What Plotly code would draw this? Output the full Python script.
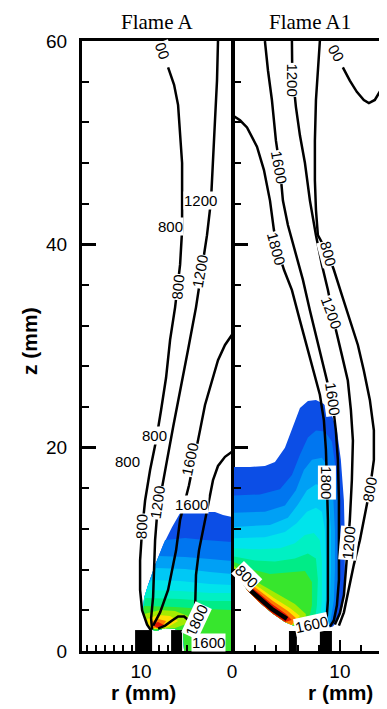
import plotly.graph_objects as go

# ----------------------------- DATA (r, z in mm) -----------------------------
PANEL_TITLES = ["Flame A", "Flame A1"]
Y_TICKS = [0, 20, 40, 60]

# filled-contour colour levels (low -> high)
LEVEL_COLORS = ["rgb(12,78,230)", "rgb(0,118,240)", "rgb(0,160,245)", "rgb(0,200,245)",
                "rgb(0,228,235)", "rgb(0,240,195)", "rgb(0,236,135)", "rgb(55,230,45)",
                "rgb(165,235,0)", "rgb(255,225,0)", "rgb(255,120,0)", "rgb(225,20,0)"]

# ---- Flame A (left, r axis reversed) ----
A_800_r = [7.03, 6.37, 5.93, 5.71, 5.49, 5.49, 5.49, 5.71, 6.04, 6.26, 6.81, 7.25, 7.80, 8.35, 9.01, 9.56, 9.89, 10.11, 10.11, 9.89, 9.34, 8.90]
A_800_z = [57.4, 55.7, 53.7, 51.2, 48.0, 44.6, 41.4, 38.0, 35.5, 33.8, 30.6, 26.9, 23.7, 20.7, 17.8, 14.8, 11.9, 8.9, 6.0, 4.0, 2.6, 2.0]
A_1200_r = [1.54, 1.65, 1.87, 2.09, 2.31, 2.75, 3.30, 3.96, 4.84, 5.71, 6.48, 7.14, 7.80, 8.24, 8.46, 8.57, 8.68, 8.90, 8.79]
A_1200_z = [60.0, 56.1, 52.2, 48.0, 44.3, 40.9, 37.5, 33.8, 29.6, 25.7, 22.0, 18.8, 15.3, 13.4, 10.9, 8.0, 5.3, 3.2, 2.1]
A_1600a_r = [0.0, 0.77, 1.54, 2.20, 2.97, 3.52, 4.18, 4.73, 5.27, 5.71, 6.15, 7.03, 7.91, 8.68]
A_1600a_z = [31.1, 30.1, 28.6, 26.6, 24.2, 21.7, 18.8, 16.3, 14.4, 12.9, 9.9, 6.0, 3.8, 2.5]
A_1600b_r = [0.0, 0.77, 1.54, 2.09, 2.53, 3.08, 3.63, 3.96, 4.07, 4.07]
A_1600b_z = [19.6, 19.1, 18.2, 16.8, 14.8, 12.4, 9.9, 7.5, 5.0, 3.8]
A_1800_r = [4.07, 4.62, 5.27, 5.93, 6.59, 7.36, 8.13]
A_1800_z = [3.0, 2.9, 3.4, 3.4, 3.0, 2.5, 2.2]

A_top_r = [5.71, 4.62, 2.97, 1.87, 0.99, 0.0]
A_top_z = [13.57, 13.77, 13.67, 13.67, 13.37, 13.18]
A_low_r = [0.0, 5.27, 5.38, 6.26, 7.36, 8.35, 9.01, 9.45, 9.78, 9.67, 9.23, 8.46, 7.58, 6.59, 5.71]
A_low_z = [0.0, 0.0, 1.77, 2.16, 2.26, 1.97, 2.16, 3.05, 4.03, 5.21, 6.49, 8.46, 10.42, 12.19, 13.57]
A_band_tops = [
    (A_top_r, A_top_z),
    ([7.36, 5.16, 2.97, 1.32, 0.0], [10.91, 11.11, 10.91, 10.82, 10.72]),
    ([8.02, 5.16, 2.42, 0.0], [9.34, 9.24, 9.05, 8.85]),
    ([8.35, 5.16, 2.42, 0.0], [8.16, 8.06, 7.77, 7.57]),
    ([8.79, 5.71, 2.42, 0.0], [6.98, 6.88, 6.59, 6.49]),
    ([9.34, 5.71, 2.42, 0.0], [6.00, 5.90, 5.70, 5.70]),
    ([9.56, 5.71, 2.42, 0.0], [5.21, 5.11, 4.92, 4.92]),
    ([9.67, 6.26, 2.97, 0.0], [4.42, 4.33, 4.13, 4.03]),
]
A_hot_polys = [
    ([9.67, 7.91, 6.26, 4.84, 5.05, 6.26, 7.91, 9.01, 9.45], [3.64, 4.03, 3.93, 3.44, 2.65, 2.26, 2.16, 2.16, 2.95]),
    ([9.34, 8.13, 6.81, 5.93, 7.03, 8.46, 9.12], [3.15, 3.54, 3.44, 2.95, 2.36, 2.16, 2.46]),
    ([9.01, 8.13, 7.25, 7.69, 8.79], [2.85, 3.15, 2.95, 2.36, 2.26]),
    ([8.79, 8.13, 7.47, 8.24], [2.65, 2.85, 2.56, 2.26]),
]
A_burner_r0 = [8.79, 5.49]
A_burner_r1 = [10.66, 6.70]
A_burner_h = [2.06, 2.06]

A_labels = [("00", 7.6, 59.0, 70), ("1200", 3.5, 44.3, 0), ("800", 6.8, 41.8, 0),
            ("800", 6.0, 35.8, -85), ("1200", 3.5, 37.3, -80), ("800", 8.5, 21.2, 0),
            ("800", 11.5, 18.6, 0), ("1600", 4.6, 18.8, -78), ("1200", 8.2, 14.6, -82),
            ("1600", 4.5, 14.4, 0), ("800", 9.9, 12.2, -88), ("1800", 3.9, 3.0, -65),
            ("1600", 2.6, 0.8, 0)]

# ---- Flame A1 (right) ----
B_1800_r = [0.0, 0.57, 1.23, 2.17, 2.83, 3.40, 3.77, 4.15, 4.72, 5.47, 6.23, 6.98, 7.64, 8.11, 8.49, 8.68, 8.77, 8.87, 8.87, 8.87, 8.77, 8.58]
B_1800_z = [52.6, 52.2, 51.5, 49.6, 47.3, 44.3, 41.4, 39.4, 37.5, 35.5, 32.5, 29.6, 27.1, 25.2, 22.7, 19.8, 16.8, 12.9, 8.9, 5.0, 3.5, 2.9]
B_1600_r = [2.92, 3.21, 3.58, 3.96, 4.34, 4.62, 5.09, 5.75, 6.51, 7.17, 7.83, 8.40, 8.87, 9.34, 9.62, 9.81, 9.91, 9.91, 9.91, 9.72, 9.43, 9.06]
B_1600_z = [60.0, 57.1, 54.2, 50.2, 47.5, 44.3, 41.9, 39.4, 36.5, 33.5, 30.6, 28.1, 26.2, 24.2, 21.7, 18.8, 14.8, 10.9, 7.0, 4.5, 3.0, 2.4]
B_1200_r = [5.47, 5.50, 5.85, 6.23, 6.70, 7.17, 7.74, 8.30, 8.87, 9.62, 10.19, 10.75, 11.04, 11.23, 11.13, 10.94, 10.57, 10.38, 10.00, 9.53]
B_1200_z = [60.0, 57.0, 53.5, 50.7, 48.0, 44.3, 40.9, 38.0, 35.5, 31.6, 29.1, 26.6, 23.7, 20.7, 16.8, 12.9, 8.0, 5.5, 3.7, 2.6]
B_800_r = [8.11, 7.92, 7.74, 7.64, 7.64, 7.74, 7.92, 8.87, 9.43, 10.19, 10.94, 11.70, 12.26, 12.83, 13.21, 13.21, 12.83, 12.45, 11.89, 11.32, 10.85, 10.38, 9.91]
B_800_z = [60.0, 57.1, 54.2, 50.2, 46.3, 43.4, 40.9, 39.1, 37.5, 35.0, 32.5, 30.1, 27.6, 24.7, 21.7, 18.8, 15.9, 13.9, 10.9, 8.5, 6.0, 3.8, 2.5]
B_800u_r = [10.28, 10.94, 11.60, 12.26, 12.74, 13.30, 13.87, 14.43]
B_800u_z = [57.4, 56.1, 55.0, 54.2, 53.9, 54.2, 55.2, 56.6]
B_edge_r = [1.51, 2.45, 3.58, 5.00]
B_edge_z = [6.0, 5.11, 4.13, 3.15]

B_bot_r = [9.34, 8.11, 6.70, 5.47, 4.81, 3.58, 2.36, 1.32, 0.57, 0.0]
B_bot_z = [2.36, 2.06, 2.26, 2.56, 2.85, 3.74, 4.82, 5.90, 6.98, 7.77]
B_band_tops = [
    ([0, 1.51, 2.92, 3.87, 4.81, 5.57, 6.23, 6.98, 7.74, 8.49, 9.15, 9.72, 10.09, 10.38, 10.47, 10.47, 10.28, 9.81, 9.34],
     [18.1, 18.1, 18.2, 18.6, 20.0, 22.2, 23.9, 24.6, 24.7, 24.3, 23.5, 21.7, 18.8, 14.8, 10.9, 7.0, 4.5, 3.0, 2.4]),
    ([0, 2.45, 4.34, 5.47, 6.23, 6.98, 7.74, 8.58, 9.25, 9.62, 9.91, 10.0, 9.91, 9.53, 9.15],
     [15.3, 15.4, 15.9, 17.3, 19.3, 21.0, 21.7, 21.6, 20.6, 17.8, 13.9, 9.9, 6.0, 3.8, 2.5]),
    ([0, 2.92, 4.81, 5.85, 6.60, 7.36, 8.30, 8.96, 9.34, 9.53, 9.53, 9.43, 9.06],
     [13.6, 13.7, 14.3, 15.8, 17.8, 18.8, 19.0, 18.0, 15.8, 11.9, 8.0, 5.0, 2.6]),
    ([0, 3.40, 5.09, 6.04, 6.89, 7.74, 8.49, 8.96, 9.15, 9.15, 9.06, 8.77],
     [12.2, 12.4, 13.1, 14.4, 15.8, 16.4, 16.2, 14.8, 11.9, 8.0, 5.0, 2.7]),
    ([0, 2.92, 4.81, 5.94, 6.89, 7.74, 8.30, 8.58, 8.68, 8.68, 8.49],
     [11.1, 11.2, 11.7, 12.6, 13.7, 14.1, 13.7, 11.9, 8.9, 5.5, 2.9]),
    ([0, 2.45, 4.34, 5.75, 6.70, 7.55, 8.11, 8.30, 8.30, 8.11],
     [10.1, 10.0, 10.1, 10.6, 11.4, 11.6, 10.9, 8.9, 5.0, 2.9]),
    ([0, 1.98, 3.87, 5.75, 6.98, 7.74, 7.92, 7.83, 7.64],
     [9.3, 8.9, 8.8, 9.1, 9.6, 9.1, 7.0, 4.5, 3.0]),
    ([0, 1.51, 3.40, 5.28, 6.70, 7.36, 7.36, 6.98],
     [8.75, 8.06, 7.57, 7.77, 7.87, 6.78, 4.52, 2.65]),
    ([0, 1.32, 2.64, 4.15, 5.75, 6.79], [8.36, 7.37, 6.49, 5.60, 4.62, 3.64]),
    ([0.19, 1.23, 2.45, 3.77, 5.28, 6.23], [7.96, 7.08, 6.19, 5.21, 4.23, 3.44]),
    ([0.38, 1.32, 2.45, 3.68, 5.09, 5.85], [7.67, 6.78, 5.90, 4.92, 3.93, 3.24]),
    ([0.57, 1.42, 2.45, 3.58, 4.91, 5.47], [7.37, 6.49, 5.60, 4.62, 3.64, 3.05]),
]
B_burner_r0 = [5.19, 8.11]
B_burner_r1 = [5.94, 9.25]
B_burner_h = [1.97, 1.97]

B_labels = [("1200", 5.5, 56.2, 90), ("00", 9.7, 58.8, 60), ("1600", 4.3, 47.6, 80),
            ("1800", 4.0, 39.6, 75), ("800", 8.9, 39.1, 75), ("1200", 9.2, 33.3, 70),
            ("1600", 9.3, 24.8, 82), ("1800", 8.8, 16.6, 90), ("800", 12.8, 15.9, -80),
            ("1200", 10.8, 10.6, -85), ("1600", 7.3, 2.6, -12), ("800", 1.2, 7.3, 45)]

# ----------------------------- FIGURE -----------------------------
fig = go.Figure()
W, H = 387, 709
PAGE_OFF = 8  # the html page body has an 8px margin


def fx(px):
    return (px - PAGE_OFF) / W


def fy(py):
    return 1 - (py - PAGE_OFF) / H


LINE = dict(color="black", width=2.5)


def add_fill(r, z, color, xa, ya):
    fig.add_trace(go.Scatter(x=list(r) + [r[0]], y=list(z) + [z[0]], mode="lines", fill="toself",
                             fillcolor=color, line=dict(width=0, color=color), hoverinfo="skip",
                             xaxis=xa, yaxis=ya))


# Flame A bands
for k, (tr, tz) in enumerate(A_band_tops):
    zs = tz[0]
    rr = list(tr) + [r for r, z in zip(A_low_r, A_low_z) if z < zs - 0.05]
    zz = list(tz) + [z for r, z in zip(A_low_r, A_low_z) if z < zs - 0.05]
    add_fill(rr, zz, LEVEL_COLORS[k], "x", "y")
for k, (pr, pz) in enumerate(A_hot_polys):
    add_fill(pr, pz, LEVEL_COLORS[8 + k], "x", "y")

# Flame A1 bands
for k, (tr, tz) in enumerate(B_band_tops):
    re = tr[-1]
    rr = list(tr) + [r for r, z in zip(B_bot_r, B_bot_z) if r < re - 0.05]
    zz = list(tz) + [z for r, z in zip(B_bot_r, B_bot_z) if r < re - 0.05]
    add_fill(rr, zz, LEVEL_COLORS[k], "x2", "y2")

# burners
for r0, r1, h in zip(A_burner_r0, A_burner_r1, A_burner_h):
    add_fill([r0, r1, r1, r0], [0, 0, h, h], "black", "x", "y")
for r0, r1, h in zip(B_burner_r0, B_burner_r1, B_burner_h):
    add_fill([r0, r1, r1, r0], [0, 0, h, h], "black", "x2", "y2")

# isolines
for r, z in [(A_800_r, A_800_z), (A_1200_r, A_1200_z), (A_1600a_r, A_1600a_z),
             (A_1600b_r, A_1600b_z), (A_1800_r, A_1800_z)]:
    fig.add_trace(go.Scatter(x=r, y=z, mode="lines", line=LINE, hoverinfo="skip", xaxis="x", yaxis="y"))
for r, z in [(B_1800_r, B_1800_z), (B_1600_r, B_1600_z), (B_1200_r, B_1200_z),
             (B_800_r, B_800_z), (B_800u_r, B_800u_z)]:
    fig.add_trace(go.Scatter(x=r, y=z, mode="lines", line=LINE, hoverinfo="skip", xaxis="x2", yaxis="y2"))
fig.add_trace(go.Scatter(x=B_edge_r, y=B_edge_z, mode="lines", line=dict(color="black", width=4.5),
                         hoverinfo="skip", xaxis="x2", yaxis="y2"))

# contour labels
LBL_FONT = dict(family="Liberation Sans, Arial", size=15, color="black")
for txt, r, z, ang in A_labels:
    fig.add_annotation(x=r, y=z, xref="x", yref="y", text=txt, textangle=ang, showarrow=False,
                       font=LBL_FONT, bgcolor="white", borderpad=0)
for txt, r, z, ang in B_labels:
    fig.add_annotation(x=r, y=z, xref="x2", yref="y2", text=txt, textangle=ang, showarrow=False,
                       font=LBL_FONT, bgcolor="white", borderpad=0)

# titles / axis titles
TFONT = dict(family="Liberation Serif, Times New Roman", size=21, color="black")
for txt, xp in zip(PANEL_TITLES, [157, 310]):
    fig.add_annotation(x=fx(xp), y=fy(22), xref="paper", yref="paper", text=txt,
                       xanchor="center", yanchor="middle", showarrow=False, font=TFONT)
AFONT = dict(family="Liberation Sans, Arial", size=21, color="black")
for xp in [143, 340]:
    fig.add_annotation(x=fx(xp), y=fy(692), xref="paper", yref="paper", text="<b>r (mm)</b>",
                       xanchor="center", yanchor="middle", showarrow=False, font=AFONT)
fig.add_annotation(x=fx(30), y=fy(341), xref="paper", yref="paper", text="<b>z (mm)</b>",
                   xanchor="center", yanchor="middle", textangle=-90, showarrow=False, font=AFONT)

TICKFONT = dict(family="Liberation Sans, Arial", size=19, color="black")
ydom = [fy(651), fy(41)]
common_x = dict(showgrid=False, zeroline=False, showline=True, linecolor="black", linewidth=2.5,
                mirror=True, ticks="inside", ticklen=11, tickwidth=2, tickcolor="black",
                tickfont=TICKFONT, automargin=False, ticklabelstandoff=1)
fig.update_layout(
    template="none",
    width=W, height=H, margin=dict(l=0, r=0, t=0, b=0, autoexpand=False),
    paper_bgcolor="white", plot_bgcolor="white", showlegend=False,
    xaxis=dict(domain=[fx(82), fx(232)], range=[16.5, 0], anchor="y", tickvals=[10, 0],
               minor=dict(dtick=1, ticklen=6, ticks="inside", tickcolor="black", tickwidth=1.5),
               **common_x),
    xaxis2=dict(domain=[fx(234), fx(387)], range=[0, 14.45], anchor="y2", tickvals=[10],
                minor=dict(dtick=2, ticklen=6, ticks="inside", tickcolor="black", tickwidth=1.5),
                **common_x),
    yaxis=dict(domain=ydom, range=[0, 60], anchor="x", tickvals=Y_TICKS, showgrid=False, zeroline=False,
               showline=True, linecolor="black", linewidth=3, mirror=True, ticks="inside", ticklen=14,
               tickwidth=2.5, tickcolor="black", tickfont=TICKFONT, ticklabelstandoff=8, automargin=False,
               minor=dict(dtick=4, ticklen=7, ticks="inside", tickcolor="black", tickwidth=1.5)),
    yaxis2=dict(domain=ydom, range=[0, 60], anchor="x2", tickvals=Y_TICKS, showticklabels=False,
                showgrid=False, zeroline=False, showline=True, linecolor="black", linewidth=2.5,
                mirror=False, ticks="inside", ticklen=14, tickwidth=2.5, tickcolor="black", automargin=False,
                minor=dict(dtick=4, ticklen=7, ticks="inside", tickcolor="black", tickwidth=1.5)),
)

fig.write_html("out.html")
